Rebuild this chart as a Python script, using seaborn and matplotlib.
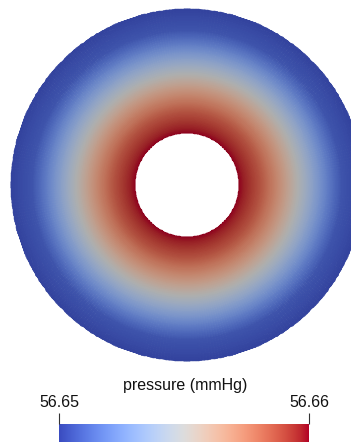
import numpy as np
import matplotlib
matplotlib.use("Agg")
import matplotlib.pyplot as plt
from matplotlib.colors import ListedColormap, Normalize
import seaborn as sns

sns.set_theme(style="white")
plt.rcParams["font.family"] = ["Liberation Sans", "DejaVu Sans"]

# Radial pressure profile (pixels from centre -> mmHg)
radius_px = [52, 73, 93, 111, 126, 143, 155, 176]
pressure = [56.6600, 56.6586, 56.6568, 56.6550, 56.6535, 56.6518, 56.6507, 56.6502]
p_min, p_max = 56.65, 56.66
tick_labels = ["56.65", "56.66"]
title = "pressure (mmHg)"

W, H = 351, 448
cx, cy = 187, 185

cmap = sns.color_palette("coolwarm", as_cmap=True)
# the rendered surface is shaded a bit darker than the colour bar
shade = cmap(np.linspace(0, 1, 256))
shade[:, :3] *= 0.79
disk_cmap = ListedColormap(shade)
norm = Normalize(p_min, p_max)

fig = plt.figure(figsize=(W / 100, H / 100), dpi=100)
ax = fig.add_axes([0, 0, 1, 1])
ax.set_xlim(0, W)
ax.set_ylim(H, 0)
ax.set_aspect("equal")
ax.axis("off")

# fine polar mesh for smooth shading, values taken from the profile
r_fine = np.linspace(radius_px[0], radius_px[-1], 300)
p_fine = np.interp(r_fine, radius_px, pressure)
theta = np.linspace(0, 2 * np.pi, 361)
R, T = np.meshgrid(r_fine, theta, indexing="ij")
X = cx + R * np.cos(T)
Y = cy + R * np.sin(T)
P = np.repeat(p_fine[:, None], len(theta), axis=1)
ax.pcolormesh(X, Y, P[:-1, :-1], cmap=disk_cmap, norm=norm,
              shading="flat", edgecolors="face", linewidth=0.3,
              antialiased=True, rasterized=True)

# colour bar
cax = fig.add_axes([59 / W, 1 - 442 / H, 250 / W, 18 / H])
grad = np.linspace(p_min, p_max, 256)[None, :]
cax.imshow(grad, aspect="auto", cmap=cmap, norm=norm,
           extent=[p_min, p_max, 0, 1])
cax.set_xlim(p_min, p_max)
cax.set_yticks([])
for s in cax.spines.values():
    s.set_visible(False)
cax.xaxis.set_ticks_position("top")
cax.set_xticks([p_min, p_max])
cax.set_xticklabels(tick_labels, fontsize=11.5, color="#111111")
cax.tick_params(axis="x", length=8, width=0.8, color="#333333", pad=2,
                bottom=False, top=True)
fig.text(185 / W, 1 - 385 / H, title, ha="center", va="center",
         fontsize=11.5, color="#111111")

fig.savefig("out.png", dpi=100, facecolor="white")
